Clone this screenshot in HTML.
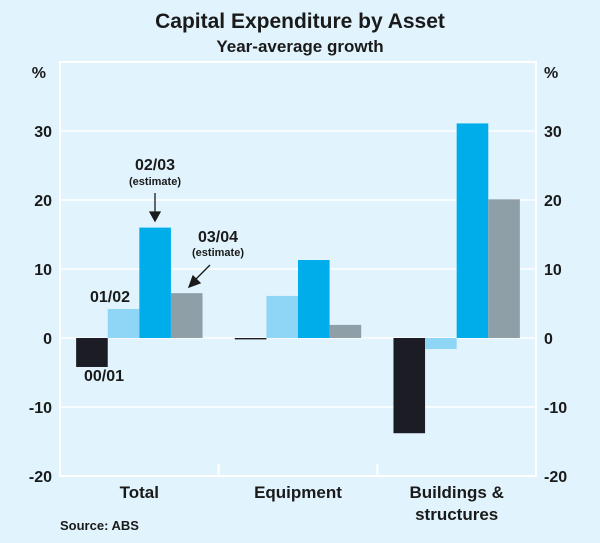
<!DOCTYPE html>
<html><head><meta charset="utf-8"><style>
body{margin:0;background:#e1f4fd;}
svg{display:block;font-family:"Liberation Sans",Arial,sans-serif;}
</style></head><body>
<svg id="c" width="600" height="543" viewBox="0 0 600 543">
<rect x="0" y="0" width="600" height="543" fill="#e1f4fd"/>
<text x="300" y="28" text-anchor="middle" font-size="21" font-weight="bold" fill="#1a1a1a">Capital Expenditure by Asset</text>
<text x="300" y="52" text-anchor="middle" font-size="17" font-weight="bold" fill="#1a1a1a">Year-average growth</text>
<g id="grid" font-weight="bold"></g>
<g id="bars"></g>
<g id="ann" font-size="16" fill="#1a1a1a" font-weight="bold">
<text x="104" y="381" text-anchor="middle">00/01</text>
<text x="110" y="302" text-anchor="middle">01/02</text>
<text x="155" y="170" text-anchor="middle">02/03</text>
<text x="155" y="185" text-anchor="middle" font-size="11">(estimate)</text>
<text x="218" y="242" text-anchor="middle">03/04</text>
<text x="218" y="256" text-anchor="middle" font-size="11">(estimate)</text>
<g stroke="#1a1a1a" stroke-width="1.3" fill="#1a1a1a">
<line x1="155" y1="193" x2="155" y2="214"/>
<polygon points="150,212 160,212 155,221"/>
<line x1="210" y1="265" x2="195" y2="280"/>
<polygon points="189,287 193,276 200,283"/>
</g>
</g>
<text x="60" y="530" font-size="13" font-weight="bold" fill="#1a1a1a">Source: ABS</text>
</svg>
<script>
const categories=["Total","Equipment","Buildings & structures"];
const series=["00/01","01/02","02/03","03/04"];
const v0001=[-4.2,-0.2,-13.8];
const v0102=[4.2,6.1,-1.6];
const v0203=[16.0,11.3,31.1];
const v0304=[6.5,1.9,20.1];
const yTicks=[-20,-10,0,10,20,30];
const colors=["#1c1c24","#8fd6f6","#00adeb","#8f9fa8"];
const NS="http://www.w3.org/2000/svg";
const L=60,R=536,T=62,B=476,ymin=-20,ymax=40;
const y=v=>B-(v-ymin)/(ymax-ymin)*(B-T);
const gw=(R-L)/categories.length;
const bw=31.6;
const x=(ci,si)=>L+ci*gw+(gw-4*bw)/2+si*bw;
function mk(tag,attrs,parent){const e=document.createElementNS(NS,tag);for(const k in attrs)e.setAttribute(k,attrs[k]);parent.appendChild(e);return e;}
const grid=document.getElementById('grid'),bars=document.getElementById('bars');
let e;
e=mk('rect',{x:L,y:T,width:R-L,height:B-T,fill:'none',stroke:'#fff','stroke-width':2},grid);


yTicks.forEach(t=>{
  e=mk('line',{x1:L,x2:R,y1:y(t),y2:y(t),stroke:'#fff','stroke-width':1.5},grid);
  
  
  e=mk('text',{x:L-8,y:y(t)+6,'text-anchor':'end','font-size':16,fill:'#1a1a1a'},grid);e.textContent=t;
  
  
  e=mk('text',{x:R+8,y:y(t)+6,'text-anchor':'start','font-size':16,fill:'#1a1a1a'},grid);e.textContent=t;
  
  
});
e=mk('text',{x:L-14,y:T+16,'text-anchor':'end','font-size':16,fill:'#1a1a1a'},grid);e.textContent='%';


e=mk('text',{x:R+8,y:T+16,'font-size':16,fill:'#1a1a1a'},grid);e.textContent='%';


for(let i=1;i<categories.length;i++){
  e=mk('line',{x1:L+i*gw,x2:L+i*gw,y1:B-12,y2:B+1,stroke:'#fff','stroke-width':2},grid);
  
  
}
categories.forEach((c,i)=>{
  const cx=L+(i+0.5)*gw;
  const parts=c==="Buildings & structures"?["Buildings &","structures"]:[c];
  parts.forEach((p,j)=>{
    e=mk('text',{x:cx,y:B+22+j*22,'text-anchor':'middle','font-size':17,fill:'#1a1a1a'},grid);e.textContent=p;
    
    
  });
});
[v0001,v0102,v0203,v0304].forEach((arr,si)=>{
  arr.forEach((v,ci)=>{
    const y0=y(0),y1=y(v);
    e=mk('rect',{x:x(ci,si),y:Math.min(y0,y1),width:bw,height:Math.max(1,Math.abs(y1-y0)),fill:colors[si]},bars);
    
    
  });
});
</script>
</body></html>
